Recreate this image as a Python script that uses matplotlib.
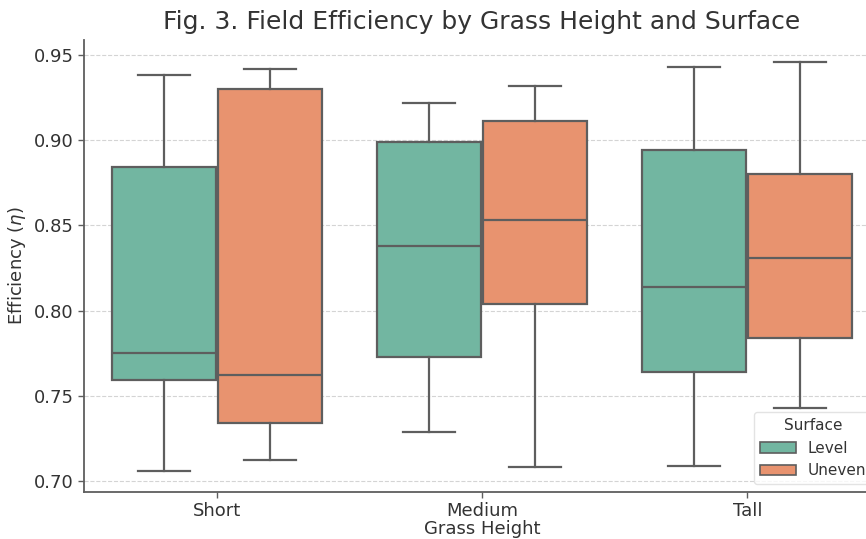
import matplotlib
matplotlib.use("Agg")
import matplotlib.pyplot as plt
from matplotlib.patches import Patch

# five-number summaries (whislo, q1, median, q3, whishi)
heights = ["Short", "Medium", "Tall"]
surfaces = ["Level", "Uneven"]
level_stats = [
    [0.706, 0.759, 0.775, 0.884, 0.938],
    [0.729, 0.773, 0.838, 0.899, 0.922],
    [0.709, 0.764, 0.814, 0.894, 0.943],
]
uneven_stats = [
    [0.712, 0.734, 0.762, 0.930, 0.942],
    [0.708, 0.804, 0.853, 0.911, 0.932],
    [0.743, 0.784, 0.831, 0.880, 0.946],
]
colors = ["#72b6a1", "#e8936f"]
line_c = "#5e5e5e"
text_c = "#333333"

plt.rcParams["font.family"] = "DejaVu Sans"
plt.rcParams["text.color"] = text_c
plt.rcParams["axes.labelcolor"] = text_c
plt.rcParams["xtick.color"] = text_c
plt.rcParams["ytick.color"] = text_c

W, H = 866, 539
fig = plt.figure(figsize=(W / 100, H / 100), dpi=100)
ax = fig.add_axes([84 / W, (H - 492) / H, (880 - 84) / W, (492 - 40) / H])


def to_stats(row):
    lo, q1, med, q3, hi = row
    return dict(whislo=lo, q1=q1, med=med, q3=q3, whishi=hi, fliers=[])


for k, (series, off) in enumerate([(level_stats, -0.2), (uneven_stats, 0.2)]):
    pos = [i + off for i in range(len(heights))]
    ax.bxp([to_stats(r) for r in series], positions=pos, widths=0.392,
           capwidths=0.196, patch_artist=True, showfliers=False,
           boxprops=dict(facecolor=colors[k], edgecolor=line_c, linewidth=1.6),
           medianprops=dict(color=line_c, linewidth=1.6),
           whiskerprops=dict(color=line_c, linewidth=1.6),
           capprops=dict(color=line_c, linewidth=1.6),
           manage_ticks=False, zorder=3)

ax.set_xlim(-0.5, len(heights) - 0.5)
ax.set_ylim(0.6935, 0.9588)
ax.set_xticks(range(len(heights)))
ax.set_xticklabels(heights)
ax.set_yticks([0.70, 0.75, 0.80, 0.85, 0.90, 0.95])
ax.set_yticklabels(["0.70", "0.75", "0.80", "0.85", "0.90", "0.95"])
ax.tick_params(labelsize=13, length=4, width=1, color=line_c)

ax.yaxis.grid(True, linestyle="--", color="#d4d4d4", linewidth=0.8, zorder=0)
ax.set_axisbelow(True)
for s in ["top", "right"]:
    ax.spines[s].set_visible(False)
for s in ["left", "bottom"]:
    ax.spines[s].set_color(line_c)
    ax.spines[s].set_linewidth(1.3)

ax.set_xlabel("Grass Height", fontsize=13, labelpad=0)
ax.set_ylabel("Efficiency ($\\eta$)", fontsize=13)
ax.set_title("Fig. 3. Field Efficiency by Grass Height and Surface", fontsize=18, pad=8)

handles = [Patch(facecolor=c, edgecolor=line_c, linewidth=1.2, label=s)
           for c, s in zip(colors, surfaces)]
leg = ax.legend(handles=handles, title="Surface", loc="lower right",
                fontsize=11, title_fontsize=11, frameon=True, handlelength=2.3)
leg.get_frame().set_edgecolor("#dddddd")

fig.savefig("out.png", dpi=100)
